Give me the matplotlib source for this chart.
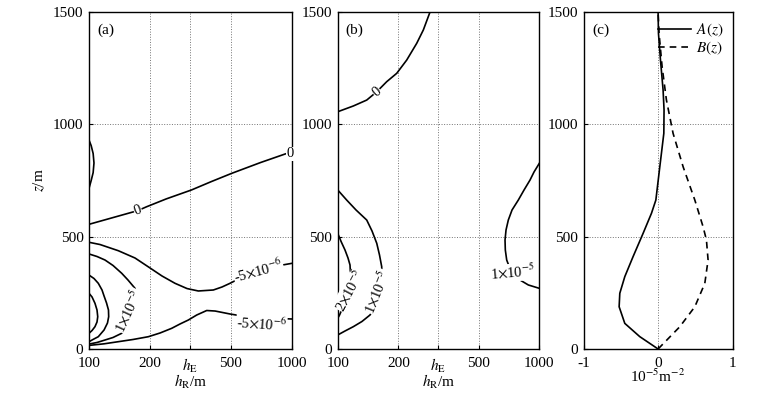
import numpy as np
import matplotlib
matplotlib.use('Agg')
import matplotlib.pyplot as plt

plt.rcParams['font.family'] = ['Liberation Serif', 'DejaVu Serif']
plt.rcParams['mathtext.fontset'] = 'stix'
plt.rcParams['font.size'] = 11
plt.rcParams['axes.unicode_minus'] = False

# 横轴刻度 (h_R, 对数坐标)
hr_ticks = [100, 200, 316, 500, 1000]
hr_labels = ['100', '200', r'$h_{\rm E}$', '500', '1000']
z_ticks = [0, 500, 1000, 1500]

# ---- (a) 等值线 (h_R, z) ----
a_arc_h = [100, 102.5, 104.8, 105.8, 104.8, 102.5, 100]
a_arc_z = [930, 905, 870, 828, 785, 750, 715]

a_zero_h = [100, 174, 192, 240, 320, 400, 505, 700, 925, 1000]
a_zero_z = [555, 616, 633, 668, 708, 745, 782, 830, 868, 877]

a_m5_up_h = [100, 113.3, 139.4, 168.5, 197.5, 228.8, 265.2, 304, 345.5, 409.6, 452,
             495, 554, 680, 840.6, 1000]
a_m5_up_z = [475, 465, 437.5, 405, 363.6, 325, 292.4, 269, 258.2, 262.6, 276,
             292.4, 314.7, 342.7, 369.4, 381.4]

a_m5_lo_h = [100, 118.5, 139.4, 164.7, 196, 223.8, 255.5, 280.7, 308.5, 339.3, 380,
             418, 495, 587, 825, 1000]
a_m5_lo_z = [16, 23, 32.5, 42.3, 54.7, 71.2, 92.1, 111.3, 129, 151.3, 171.3,
             169, 155.8, 144.6, 136.6, 133.5]

a_1e5_h = [100, 109.5, 119.9, 131.3, 144.9, 155.6, 168.5, 174.3, 164.7, 155.6,
           144.9, 131.3, 119.9, 109.5, 100]
a_1e5_z = [423, 411.7, 396, 371.7, 337, 307, 270, 218, 138, 106.8,
           70, 51.2, 40, 29, 22]

a_c3_h = [100, 105.8, 111.1, 115.9, 118.6, 122, 124.7, 125, 123.3, 118.6, 111.1, 104.6, 100]
a_c3_z = [329, 313.8, 292.4, 262.6, 236, 204.7, 173.6, 143.8, 115.7, 84.6, 54.7, 42.3, 32.5]

a_c4_h = [100, 103.5, 107, 109.5, 110.4, 109.5, 107, 103.5, 100]
a_c4_z = [248, 231.5, 203.4, 173.6, 143.8, 120.2, 99.3, 82.3, 70]

# ---- (b) 等值线 ----
b_zero_h = [100, 119.5, 139.3, 156.2, 175, 196.2, 219.9, 246.6, 265.9, 287]
b_zero_z = [1056, 1081.6, 1108, 1145, 1189.8, 1227, 1286, 1360.7, 1420, 1500]

b_1e5_h = [100, 110.8, 123.3, 139.3, 148, 156.2, 161.2, 165.3, 165.9, 154.9,
           144.6, 131.9, 119.5, 108.7, 100]
b_1e5_z = [708, 663, 618.7, 574, 525.2, 470.5, 418.4, 366.3, 262.6, 195.8,
           151.3, 122.4, 99.3, 80.1, 62.3]

b_2e5_h = [100, 104, 108.7, 112.5, 115.1, 116.4, 114, 108, 104.7, 102, 100]
b_2e5_z = [515, 478, 440.6, 405, 373.9, 285, 235, 195, 173.6, 150, 136.6]

b_right_h = [1000, 941.2, 899.2, 839.8, 786.7, 732.2, 701.8, 683.7, 675.9, 678.2,
             689, 729.8, 802.3, 881.9, 1000]
b_right_z = [826.6, 787.8, 752, 707.7, 663, 618.7, 574, 529.7, 485, 440.6,
             396, 337, 307, 285, 270]

# ---- (c) A(z), B(z) 剖面 ----
c_z = [0, 55, 114, 188, 248, 322, 411, 515, 604, 663, 811, 960, 1064, 1153, 1286, 1405, 1500]
A_z = [0, -0.246, -0.447, -0.523, -0.514, -0.447, -0.336, -0.201, -0.089, -0.03,
       0.023, 0.077, 0.08, 0.067, 0.032, 0.005, 0.0]
B_zz = [0, 99, 188, 292, 396, 485, 544, 663, 811, 960, 1108, 1256, 1405, 1500]
B_z = [0, 0.291, 0.493, 0.627, 0.671, 0.649, 0.604, 0.493, 0.336, 0.201, 0.112, 0.054, 0.013, 0.0]


def style_axis(ax):
    ax.grid(True, linestyle=':', color='0.45', linewidth=0.7)
    ax.tick_params(direction='in', length=3)
    ax.tick_params(axis='y', pad=4)
    ax.tick_params(axis='x', pad=6)
    for s in ax.spines.values():
        s.set_linewidth(1.0)
    ax.set_ylim(0, 1500)
    ax.set_yticks(z_ticks)


def setup_hr_axis(ax):
    ax.set_xscale('log')
    ax.set_xlim(100, 1000)
    ax.set_xticks(hr_ticks)
    ax.set_xticklabels(hr_labels)
    ax.minorticks_off()
    ax.set_xlabel(r'$h_{\rm R}$/m', labelpad=-2)


def clabel(ax, x, y, s, rot):
    ax.text(x, y, s, rotation=rot, ha='center', va='center', fontsize=10.5,
            bbox=dict(facecolor='white', edgecolor='none', pad=0.3), zorder=5)


fig = plt.figure(figsize=(7.74, 3.96), dpi=100)
ax_a = fig.add_axes([0.115, 0.1187, 0.2623, 0.851])
ax_b = fig.add_axes([0.4363, 0.1187, 0.2605, 0.851])
ax_c = fig.add_axes([0.754, 0.1187, 0.1925, 0.851])

lw = 1.2
# (a)
for hh, zz in [(a_arc_h, a_arc_z), (a_zero_h, a_zero_z), (a_m5_up_h, a_m5_up_z),
               (a_m5_lo_h, a_m5_lo_z), (a_1e5_h, a_1e5_z), (a_c3_h, a_c3_z),
               (a_c4_h, a_c4_z)]:
    ax_a.plot(hh, zz, 'k-', lw=lw)
clabel(ax_a, 174, 616, '0', 20)
clabel(ax_a, 975, 868, '0', 0)
clabel(ax_a, 682, 350, r'-5$\times$10$^{-6}$', 15)
clabel(ax_a, 709, 114, r'-5$\times$10$^{-6}$', -4)
clabel(ax_a, 157, 170, r'1$\times$10$^{-5}$', 65)
setup_hr_axis(ax_a)
style_axis(ax_a)
ax_a.set_ylabel(r'$z$/m')
ax_a.text(0.04, 0.965, '(a)', transform=ax_a.transAxes, va='top', ha='left')

# (b)
for hh, zz in [(b_zero_h, b_zero_z), (b_1e5_h, b_1e5_z), (b_2e5_h, b_2e5_z),
               (b_right_h, b_right_z)]:
    ax_b.plot(hh, zz, 'k-', lw=lw)
clabel(ax_b, 156, 1145, '0', 40)
clabel(ax_b, 157, 255, r'1$\times$10$^{-5}$', 68)
clabel(ax_b, 115, 262, r'2$\times$10$^{-5}$', 62)
clabel(ax_b, 740, 340, r'1$\times$10$^{-5}$', 5)
setup_hr_axis(ax_b)
style_axis(ax_b)
ax_b.text(0.04, 0.965, '(b)', transform=ax_b.transAxes, va='top', ha='left')

# (c)
ax_c.plot(A_z, c_z, 'k-', lw=lw, label=r'$A(z)$')
ax_c.plot(B_z, B_zz, 'k--', lw=lw, label=r'$B(z)$', dashes=(4, 3))
ax_c.set_xlim(-1, 1)
ax_c.set_xticks([-1, 0, 1])
ax_c.set_xlabel(r'10$^{-5}$m$^{-2}$', labelpad=-2)
style_axis(ax_c)
ax_c.legend(loc='upper right', frameon=False, handlelength=2.2, handletextpad=0.3,
            borderaxespad=0.2, labelspacing=0.1, fontsize=11)
ax_c.text(0.06, 0.965, '(c)', transform=ax_c.transAxes, va='top', ha='left')

fig.savefig('out.png', dpi=100)
